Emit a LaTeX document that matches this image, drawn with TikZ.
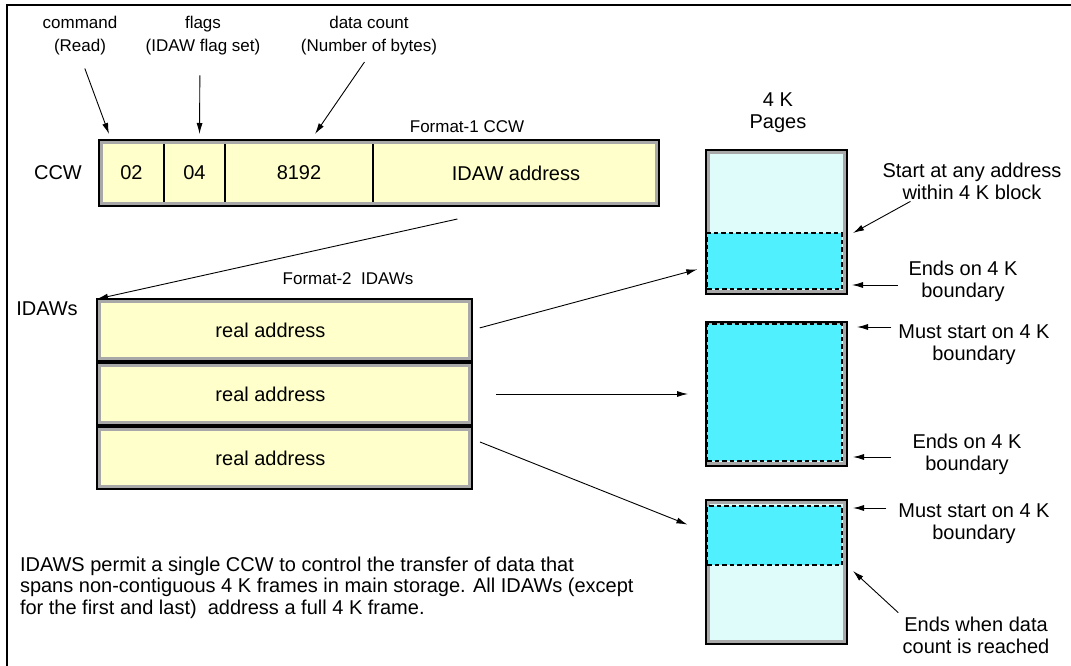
\documentclass[tikz,border=0pt]{standalone}
\usepackage{fontspec}
\setmainfont{Liberation Sans}
\usepackage{xcolor}
\usetikzlibrary{calc, positioning, fit, arrows.meta}

\definecolor{boxyellow}{HTML}{FFFFCC}
\definecolor{rimgray}{HTML}{A8A8A8}
\definecolor{pagecyan}{HTML}{E0FCFA}
\definecolor{datacyan}{HTML}{50F0FF}

\newcommand{\bigtxt}{\fontsize{20}{22}\selectfont}
\newcommand{\smalltxt}{\fontsize{17}{23}\selectfont}

\begin{document}
\begin{tikzpicture}[x=1pt, y=-1pt, >={Latex[length=11pt, width=6pt]},
    every node/.style={inner sep=0pt, outer sep=0pt},
    framed/.style={draw=black, line width=2pt,
        path picture={\draw[rimgray, line width=8pt] (path picture bounding box.south west) rectangle (path picture bounding box.north east);}},
    cell/.style={draw=black, line width=1.2pt, fill=boxyellow, minimum height=66pt, font=\bigtxt},
    regbox/.style={framed, fill=boxyellow, minimum width=375pt, minimum height=62pt, font=\bigtxt},
    pagebox/.style={framed, fill=pagecyan, minimum width=141pt, minimum height=144pt},
    datapart/.style={draw=black, dash pattern=on 4.5pt off 3pt, line width=1.2pt, fill=datacyan, minimum width=135pt},
    lbl/.style={align=center, font=\bigtxt},
    toplbl/.style={align=center, font=\smalltxt},
    arr/.style={->, line width=0.9pt}]

    % 0. Nền và khung
    \useasboundingbox (0,0) rectangle (1071,666);
    \fill[white] (0,0) rectangle (1071,666);
    \draw[line width=2pt] (7,666) -- (7,5) -- (1071,5);

    % 1. Format-1 CCW
    \node[lbl] (ccwname) at (58,173) {CCW};
    \node[cell, minimum width=65pt] (c02) at (131.5,173) {02};
    \node[cell, minimum width=61pt, right=0pt of c02] (c04) {04};
    \node[cell, minimum width=148pt, right=0pt of c04] (c8192) {8192};
    \node[cell, minimum width=286pt, right=0pt of c8192] (cidaw) {IDAW address};
    \node[framed, fit=(c02)(cidaw)] (ccw) {};
    \node[toplbl] (fmt1) at (467,127) {Format-1 CCW};

    % Nhãn các trường
    \node[toplbl] (cmd) at (80,36) {command\\(Read)};
    \node[toplbl] (flg) at (203,36) {flags\\(IDAW flag set)};
    \node[toplbl] (cnt) at (369,36) {data count\\(Number of bytes)};
    \draw[arr, shorten <=14pt] (cmd.south) -- ($(c02.north west)+(10,-6)$);
    \draw[arr, shorten <=20pt] (flg.south -| 200,0) -- ($(c04.north)+(5,-6)$);
    \draw[arr, shorten <=8pt] (cnt.south) -- ($(c8192.north)+(16,-6)$);

    % 2. Format-2 IDAWs
    \node[lbl] (idawname) at (47,309) {IDAWs};
    \node[toplbl] (fmt2) at (348,279) {Format-2~~IDAWs};
    \node[regbox] (idaw1) at (284.5,330) {real address\hspace*{28pt}};
    \node[regbox, below=2pt of idaw1] (idaw2) {real address\hspace*{28pt}};
    \node[regbox, below=2pt of idaw2] (idaw3) {real address\hspace*{28pt}};
    \draw[arr, shorten <=60pt] (cidaw.south) -- (idaw1.north west);

    % 3. Các trang 4 K
    \node[lbl] (pages) at (778,113) {4 K\\Pages};
    \node[pagebox] (pg1) at (776.5,222) {};
    \node[pagebox] (pg2) at (776.5,394) {};
    \node[pagebox] (pg3) at (776.5,572) {};
    \node[datapart, minimum height=56pt] (d1) at (774.5,261) {};
    \node[datapart, minimum height=137pt] (d2) at (774.5,392.5) {};
    \node[datapart, minimum height=59pt] (d3) at (774.5,535.5) {};

    % Mũi tên từ IDAW tới trang
    \draw[arr, shorten <=8pt, shorten >=9pt] (idaw1.east) -- ($(pg1.west)+(0,45)$);
    \draw[arr, shorten <=24pt, shorten >=18pt] (idaw2.east) -- (pg2.west);
    \draw[arr, shorten >=20pt] ($(idaw3.east)+(8,-16)$) -- ($(pg3.west)+(0,-40)$);

    % 4. Chú thích bên phải
    \node[lbl] (s1) at (972,181) {Start at any address\\within 4 K block};
    \node[lbl] (e1) at (963,281.5) {Ends on 4 K\\boundary};
    \node[lbl] (ms2) at (974,344.5) {Must start on 4 K\\boundary};
    \node[lbl] (e2) at (967,454.5) {Ends on 4 K\\boundary};
    \node[lbl] (ms3) at (974,523.5) {Must start on 4 K\\boundary};
    \node[lbl] (ew) at (976,635) {Ends when data\\count is reached};

    \draw[arr] ($(s1.south west)+(28,2)$) -- ($(d1.north east)+(11,0)$);
    \coordinate (t1) at ($(pg1.south east)+(5,-9)$);
    \draw[arr, shorten <=11pt] (e1.west |- t1) -- (t1);
    \coordinate (t2) at ($(pg2.north east)+(10,5)$);
    \draw[arr, shorten <=7pt] (ms2.west |- t2) -- (t2);
    \coordinate (t3) at ($(pg2.south east)+(6,-9)$);
    \draw[arr, shorten <=22pt] (e2.west |- t3) -- (t3);
    \coordinate (t4) at ($(pg3.north east)+(6,8)$);
    \draw[arr, shorten <=12pt] (ms3.west |- t4) -- (t4);
    \draw[arr, shorten <=6pt] (ew.north west) -- ($(d3.south east)+(11,6)$);

    % 5. Ghi chú
    \node[anchor=north west, align=left, font=\fontsize{20}{21.5}\selectfont] (note) at (20,557)
        {IDAWS permit a single CCW to control the transfer of data that\\
         spans non-contiguous 4 K frames in main storage. All IDAWs (except\\
         for the first and last)~ address a full 4 K frame.};
\end{tikzpicture}
\end{document}
